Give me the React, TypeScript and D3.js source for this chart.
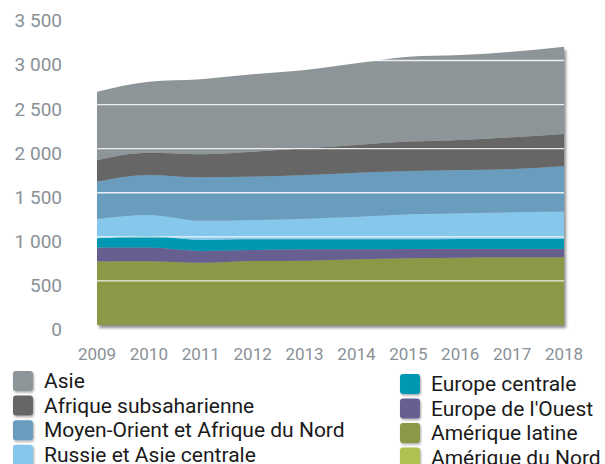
import React from "react";
import * as d3 from "d3";

const years = [2009, 2010, 2011, 2012, 2013, 2014, 2015, 2016, 2017, 2018];
const ameriqueDuNord = [0, 0, 0, 0, 0, 0, 0, 0, 0, 0];
const ameriqueLatine = [719, 723, 707, 727, 730, 746, 757, 764, 768, 768];
const europeOuest = [159, 155, 133, 124, 129, 113, 106, 102, 98, 98];
const europeCentrale = [107, 132, 125, 122, 114, 114, 110, 110, 110, 110];
const russieAsieCentrale = [218, 238, 219, 219, 233, 256, 283, 292, 303, 310];
const moyenOrient = [423, 454, 492, 491, 496, 499, 491, 490, 491, 518];
const afriqueSub = [246, 253, 261, 283, 302, 314, 333, 341, 359, 363];
const asie = [774, 805, 850, 877, 888, 926, 963, 963, 971, 990];
const yTicks = [0, 500, 1000, 1500, 2000, 2500, 3000, 3500];

const seriesNames = [
  "Amérique du Nord",
  "Amérique latine",
  "Europe de l'Ouest",
  "Europe centrale",
  "Russie et Asie centrale",
  "Moyen-Orient et Afrique du Nord",
  "Afrique subsaharienne",
  "Asie",
];
const seriesValues = [
  ameriqueDuNord,
  ameriqueLatine,
  europeOuest,
  europeCentrale,
  russieAsieCentrale,
  moyenOrient,
  afriqueSub,
  asie,
];
const colors: Record<string, string> = {
  "Asie": "#8e9598",
  "Afrique subsaharienne": "#666666",
  "Moyen-Orient et Afrique du Nord": "#6a9dbd",
  "Russie et Asie centrale": "#86c8ec",
  "Europe centrale": "#0097b2",
  "Europe de l'Ouest": "#675f91",
  "Amérique latine": "#8b9845",
  "Amérique du Nord": "#afc150",
};
const legendLeft = ["Asie", "Afrique subsaharienne", "Moyen-Orient et Afrique du Nord", "Russie et Asie centrale"];
const legendRight = ["Europe centrale", "Europe de l'Ouest", "Amérique latine", "Amérique du Nord"];

const W = 605;
const H = 464;

export default function App() {
  const x = d3.scaleLinear().domain([2009, 2018]).range([97, 564]);
  const y = d3.scaleLinear().domain([0, 3500]).range([325, 16.4]);

  const table = years.map((yr, i) => {
    const row: Record<string, number> = { year: yr };
    seriesNames.forEach((n, k) => (row[n] = seriesValues[k][i]));
    return row;
  });
  const stacked = d3.stack<Record<string, number>>().keys(seriesNames)(table);
  const area = d3
    .area<d3.SeriesPoint<Record<string, number>>>()
    .x((d) => x(d.data.year))
    .y0((d) => y(d[0]))
    .y1((d) => y(d[1]))
    .curve(d3.curveMonotoneX);

  const font = "Roboto, 'Liberation Sans', sans-serif";
  const axisColor = "#8a9196";

  return (
    <svg
      width={W}
      height={H}
      style={{ position: "absolute", left: 0, top: 0, background: "#fff" }}
    >
      <defs>
        <filter id="shadow" x="-5%" y="-5%" width="115%" height="115%">
          <feDropShadow dx="2" dy="3" stdDeviation="1.6" floodColor="#000" floodOpacity="0.45" />
        </filter>
        <filter id="lshadow" x="-30%" y="-30%" width="160%" height="160%">
          <feDropShadow dx="1" dy="1.5" stdDeviation="1" floodColor="#000" floodOpacity="0.35" />
        </filter>
      </defs>
      <g filter="url(#shadow)">
        {stacked.map((s) => (
          <path key={s.key} d={area(s) || ""} fill={colors[s.key]} />
        ))}
      </g>
      {yTicks.filter((t) => t > 0).map((t) => (
        <line
          key={t}
          x1={x(2009)}
          x2={x(2018)}
          y1={y(t)}
          y2={y(t)}
          stroke="#ffffff"
          strokeOpacity={0.85}
          strokeWidth={1.3}
        />
      ))}
      {yTicks.map((t) => (
        <text
          key={t}
          x={62}
          y={y(t) + 4.5}
          textAnchor="end"
          dominantBaseline="central"
          fontFamily={font}
          fontSize={19}
          fill={axisColor}
        >
          {d3.format(",")(t).replace(/,/g, " ")}
        </text>
      ))}
      {years.map((yr) => (
        <text
          key={yr}
          x={x(yr)}
          y={354}
          textAnchor="middle"
          dominantBaseline="central"
          fontFamily={font}
          fontSize={17}
          fill={axisColor}
        >
          {yr}
        </text>
      ))}
      {legendLeft.map((n, i) => (
        <g key={n} transform={`translate(0, ${381 + i * 24.6})`}>
          <rect x={13} y={-10} width={20} height={20} rx={3} fill={colors[n]} filter="url(#lshadow)" />
          <text x={44} y={0} dominantBaseline="central" fontFamily={font} fontSize={21} fill="#1a1a1a">
            {n}
          </text>
        </g>
      ))}
      {legendRight.map((n, i) => (
        <g key={n} transform={`translate(0, ${384 + i * 24.5})`}>
          <rect x={400} y={-10} width={20} height={20} rx={3} fill={colors[n]} filter="url(#lshadow)" />
          <text x={431} y={0} dominantBaseline="central" fontFamily={font} fontSize={21} fill="#1a1a1a">
            {n}
          </text>
        </g>
      ))}
    </svg>
  );
}
